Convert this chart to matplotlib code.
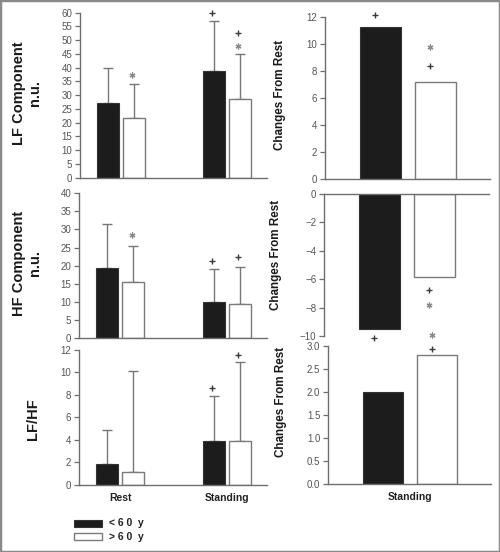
import matplotlib
matplotlib.use("Agg")
import matplotlib.pyplot as plt
from matplotlib.patches import Rectangle
import numpy as np

plt.rcParams['font.family'] = ['Liberation Sans', 'DejaVu Sans']

# ---------------- data ----------------
groups = ['Rest', 'Standing']
series = ['<60 y', '>60 y']

lf_young = [27.3, 38.7]
lf_young_sd = [12.6, 18.1]
lf_old = [21.6, 28.7]
lf_old_sd = [12.3, 16.3]

hf_young = [19.4, 10.0]
hf_young_sd = [12.2, 9.0]
hf_old = [15.4, 9.5]
hf_old_sd = [9.9, 10.0]

ratio_young = [1.87, 3.9]
ratio_young_sd = [3.03, 4.0]
ratio_old = [1.1, 3.9]
ratio_old_sd = [9.03, 7.03]

change_group = ['Standing']
change_lf = [11.26, 7.2]
change_hf = [-9.48, -5.82]
change_ratio = [1.99, 2.80]

# significance marks: (group index, series index, y value, symbol)
marks_lf = [(0, 1, 37.3, '*'), (1, 0, 60.0, '+'), (1, 1, 52.5, '+'), (1, 1, 48.0, '*')]
marks_hf = [(0, 1, 28.5, '*'), (1, 0, 21.4, '+'), (1, 1, 22.5, '+')]
marks_ratio = [(1, 0, 8.64, '+'), (1, 1, 11.52, '+')]
marks_clf = [(0, 0, 12.2, '+'), (0, 1, 9.82, '*'), (0, 1, 8.41, '+')]
marks_chf = [(0, 1, -6.76, '+'), (0, 1, -7.84, '*'), (0, 0, -10.16, '+')]
marks_cratio = [(0, 1, 3.24, '*'), (0, 1, 2.93, '+')]

# ---------------- style ----------------
W, H = 500, 552
fig = plt.figure(figsize=(W / 100, H / 100), dpi=100)

def ax_px(l, t, r, b):
    return fig.add_axes([l / W, 1 - b / H, (r - l) / W, (b - t) / H])

GREY = '#6e6e6e'
TICKC = '#555555'
BLACK = '#1c1c1c'
EDGE_W = '#7a7a7a'

def style(ax, yticks, fmt=None, top_axis=False):
    for s in ['right']:
        ax.spines[s].set_visible(False)
    if top_axis:
        ax.spines['bottom'].set_visible(False)
        ax.spines['top'].set_color(GREY)
    else:
        ax.spines['top'].set_visible(False)
        ax.spines['bottom'].set_color(GREY)
    ax.spines['left'].set_color(GREY)
    for s in ax.spines.values():
        s.set_linewidth(1.0)
    ax.set_yticks(yticks)
    if fmt:
        ax.set_yticklabels([fmt.format(v) for v in yticks])
    ax.tick_params(axis='y', direction='out', length=3.5, width=0.9, color=GREY,
                   labelsize=7, labelcolor=TICKC, pad=2)
    ax.tick_params(axis='x', length=0, labelsize=7.5, pad=6)
    ax.set_xticks([])

# left panels geometry: bar width and offsets in category units
BW = 0.2075
OFF = 0.1226

def left_panel(ax, young, young_sd, old, old_sd, marks, ylim, yticks):
    x = np.arange(len(groups))
    ax.bar(x - OFF, young, BW, color=BLACK, edgecolor='#333333', linewidth=0.8, zorder=2)
    ax.bar(x + OFF, old, BW, color='white', edgecolor=EDGE_W, linewidth=1.0, zorder=2)
    for xs, m, sd in [(x - OFF, young, young_sd), (x + OFF, old, old_sd)]:
        ax.errorbar(xs, m, yerr=[np.zeros(len(sd)), sd], fmt='none', ecolor='#777777',
                    elinewidth=1.0, capsize=3.3, capthick=1.0, zorder=1)
    for gi, si, yv, sym in marks:
        xx = gi + (OFF if si == 1 else -OFF) - 0.015
        draw_mark(ax, xx, yv, sym)
    ax.set_xlim(-0.387, 1.377)
    ax.set_ylim(*ylim)
    style(ax, yticks)

RBW = 0.3
ROFF = 0.201

def draw_mark(ax, xx, yv, sym):
    if sym == '+':
        ax.plot([xx], [yv], marker='+', ms=5.0, mew=1.0, color='#3a3a3a',
                linestyle='none', clip_on=False, zorder=4)
    else:
        ax.plot([xx], [yv], marker=(6, 2, 0), ms=4.2, mew=0.9, color='#8a8a8a',
                linestyle='none', clip_on=False, zorder=4)

def right_panel(ax, vals, marks, ylim, yticks, fmt=None, top_axis=False):
    ax.bar([-ROFF], [vals[0]], RBW, color=BLACK, edgecolor='#333333', linewidth=0.8, zorder=2)
    ax.bar([ROFF], [vals[1]], RBW, color='white', edgecolor=EDGE_W, linewidth=1.0, zorder=2)
    for gi, si, yv, sym in marks:
        xx = (ROFF if si == 1 else -ROFF) - 0.04
        draw_mark(ax, xx, yv, sym)
    ax.set_xlim(-0.61, 0.6)
    ax.set_ylim(*ylim)
    style(ax, yticks, fmt, top_axis)

# ---------------- panels ----------------
ax1 = ax_px(80, 12.7, 267, 177.7)
left_panel(ax1, lf_young, lf_young_sd, lf_old, lf_old_sd, marks_lf, (0, 60), np.arange(0, 61, 5))

ax2 = ax_px(79, 193.3, 267, 338)
left_panel(ax2, hf_young, hf_young_sd, hf_old, hf_old_sd, marks_hf, (0, 40), np.arange(0, 41, 5))

ax3 = ax_px(79, 350, 267, 484.7)
left_panel(ax3, ratio_young, ratio_young_sd, ratio_old, ratio_old_sd, marks_ratio, (0, 12), np.arange(0, 13, 2))
ax3.set_xticks(np.arange(len(groups)))
ax3.set_xticklabels(groups, fontweight='bold', color='#222222')

ax4 = ax_px(325, 17.3, 490, 179)
right_panel(ax4, change_lf, marks_clf, (0, 12), np.arange(0, 13, 2))

ax5 = ax_px(324, 194, 489, 336)
right_panel(ax5, change_hf, marks_chf, (-10, 0), np.arange(-10, 1, 2), top_axis=True)

ax6 = ax_px(328, 346, 491, 484)
right_panel(ax6, change_ratio, marks_cratio, (0, 3.0), np.arange(0, 3.01, 0.5), fmt='{:.1f}')
ax6.set_xticks([0])
ax6.set_xticklabels(change_group, fontweight='bold', color='#222222')

# ---------------- y labels ----------------
lab_kw = dict(rotation=90, ha='center', va='center', fontweight='bold', color='#1a1a1a')
fig.text(27 / W, 1 - 93 / H, 'LF Component\nn.u.', fontsize=10.5, linespacing=1.15, **lab_kw)
fig.text(27 / W, 1 - 263 / H, 'HF Component\nn.u.', fontsize=10.5, linespacing=1.15, **lab_kw)
fig.text(33 / W, 1 - 419.5 / H, 'LF/HF', fontsize=10.5, **lab_kw)
for yc, xc in [(95, 280), (255, 276), (402, 281)]:
    fig.text(xc / W, 1 - yc / H, 'Changes From Rest', fontsize=8.4, **lab_kw)

# ---------------- legend ----------------
fig.patches.append(Rectangle((74 / W, 1 - 527 / H), 28 / W, 7 / H, transform=fig.transFigure,
                             facecolor=BLACK, edgecolor='#333333', lw=0.8))
fig.patches.append(Rectangle((74 / W, 1 - 540 / H), 28 / W, 7 / H, transform=fig.transFigure,
                             facecolor='white', edgecolor=EDGE_W, lw=1.0))
fig.text(109 / W, 1 - 523.5 / H, '< 6 0  y', fontsize=7.5, fontweight='bold', color='#222222',
         va='center', ha='left')
fig.text(109 / W, 1 - 536.5 / H, '> 6 0  y', fontsize=7.5, fontweight='bold', color='#222222',
         va='center', ha='left')

# figure frame
fig.patches.append(Rectangle((0, 0), 1, 1, transform=fig.transFigure, fill=False,
                             edgecolor='#8a8a8a', lw=2.5))

fig.savefig('out.png', dpi=100)
